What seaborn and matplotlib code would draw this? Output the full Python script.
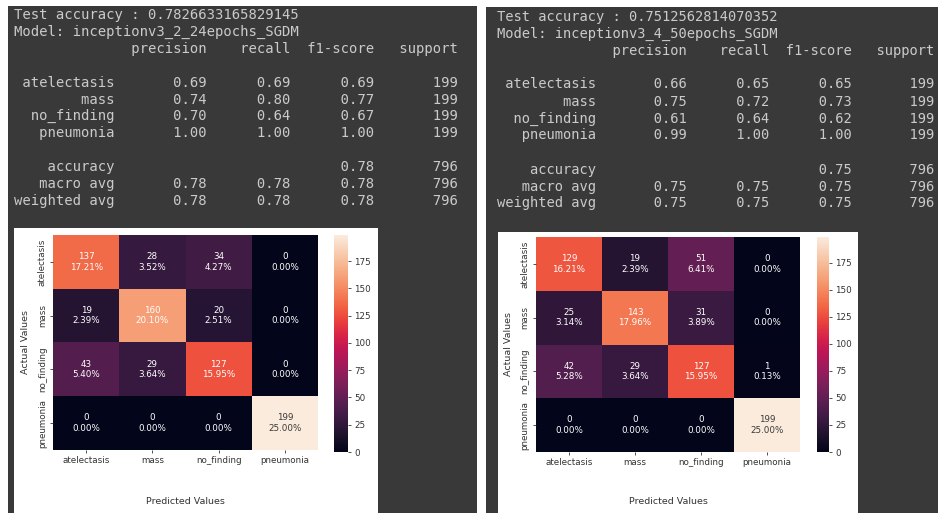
import matplotlib
matplotlib.use("Agg")
import matplotlib.pyplot as plt
from matplotlib.patches import Rectangle
import numpy as np
import seaborn as sns

# ---- data -------------------------------------------------------------
classes = ["atelectasis", "mass", "no_finding", "pneumonia"]
report_header = ["precision", "recall", "f1-score", "support"]

# model A: inceptionv3_2_24epochs_SGDM
model_a = "inceptionv3_2_24epochs_SGDM"
test_acc_a = "0.7826633165829145"
cm_a = [[137, 28, 34, 0],
        [19, 160, 20, 0],
        [43, 29, 127, 0],
        [0, 0, 0, 199]]
precision_a = [0.69, 0.74, 0.70, 1.00]
recall_a = [0.69, 0.80, 0.64, 1.00]
f1_a = [0.69, 0.77, 0.67, 1.00]
support_a = [199, 199, 199, 199]
accuracy_a = 0.78
macro_a = [0.78, 0.78, 0.78]
weighted_a = [0.78, 0.78, 0.78]

# model B: inceptionv3_4_50epochs_SGDM
model_b = "inceptionv3_4_50epochs_SGDM"
test_acc_b = "0.7512562814070352"
cm_b = [[129, 19, 51, 0],
        [25, 143, 31, 0],
        [42, 29, 127, 1],
        [0, 0, 0, 199]]
precision_b = [0.66, 0.75, 0.61, 0.99]
recall_b = [0.65, 0.72, 0.64, 1.00]
f1_b = [0.65, 0.73, 0.62, 1.00]
support_b = [199, 199, 199, 199]
accuracy_b = 0.75
macro_b = [0.75, 0.75, 0.75]
weighted_b = [0.75, 0.75, 0.75]

total_support = 796

# ---- helpers ----------------------------------------------------------
W, H = 938, 513
fig = plt.figure(figsize=(W / 100, H / 100), dpi=100)
fig.patch.set_facecolor("white")


def fx(x):
    return x / W


def fy(y):
    return 1 - y / H


def rect(x0, y0, x1, y1, color, z):
    fig.add_artist(Rectangle((fx(x0), fy(y1)), fx(x1) - fx(x0), fy(y0) - fy(y1),
                             transform=fig.transFigure, facecolor=color,
                             edgecolor="none", zorder=z))


def report_lines(test_acc, model, prec, rec, f1, sup, acc, macro, weighted):
    w = 12
    lines = [f"Test accuracy : {test_acc}", f"Model: {model}"]
    lines.append(" " * w + " " + "".join(f" {h:>9}" for h in report_header))
    lines.append("")
    for c, p, r, f, s in zip(classes, prec, rec, f1, sup):
        lines.append(f"{c:>{w}} " + f" {p:>9.2f} {r:>9.2f} {f:>9.2f}" + f" {s:>9}")
    lines.append("")
    lines.append(f"{'accuracy':>{w}} " + " " * 20 + f" {acc:>9.2f}" + f" {total_support:>9}")
    lines.append(f"{'macro avg':>{w}} " + "".join(f" {v:>9.2f}" for v in macro) + f" {total_support:>9}")
    lines.append(f"{'weighted avg':>{w}} " + "".join(f" {v:>9.2f}" for v in weighted) + f" {total_support:>9}")
    return lines


def draw_report(lines, x0, y0, step, size):
    for i, ln in enumerate(lines):
        if ln:
            fig.text(fx(x0), fy(y0 + step * i), ln, family="DejaVu Sans Mono",
                     fontsize=size, color="#cacaca", ha="left", va="center", zorder=3)


def draw_cm(cm, box, cbox, ylab_x, xlab_y):
    cm = np.array(cm)
    labels = np.array([[f"{v}\n{v / total_support:.2%}" for v in row] for row in cm])
    ax = fig.add_axes([fx(box[0]), fy(box[3]), fx(box[2]) - fx(box[0]), fy(box[1]) - fy(box[3])])
    cax = fig.add_axes([fx(cbox[0]), fy(cbox[3]), fx(cbox[2]) - fx(cbox[0]), fy(cbox[1]) - fy(cbox[3])])
    sns.heatmap(cm, annot=labels, fmt="", ax=ax, cbar_ax=cax, cmap="rocket",
                annot_kws={"fontsize": 6.3}, xticklabels=classes, yticklabels=classes)
    # light text on every cell except the brightest ones
    for t in ax.texts:
        count = int(t.get_text().split("\n")[0])
        t.set_color("#3a3a3a" if count > cm.max() * 0.9 else "white")
    ax.tick_params(labelsize=6.3, length=2.5, width=0.6, pad=2, colors="#333333")
    plt.setp(ax.get_yticklabels(), rotation=90, va="center")
    plt.setp(ax.get_xticklabels(), rotation=0)
    cax.tick_params(labelsize=6.3, length=2.5, width=0.6, pad=2, colors="#333333")
    cax.set_yticks(np.arange(0, 176, 25))
    ax.set_xlabel("")
    ax.set_ylabel("")
    fig.text(fx(ylab_x), (fy(box[1]) + fy(box[3])) / 2, "Actual Values", rotation=90,
             fontsize=6.8, color="#333333", ha="center", va="center")
    fig.text((fx(box[0]) + fx(box[2])) / 2, fy(xlab_y), "Predicted Values",
             fontsize=6.8, color="#333333", ha="center", va="center")


# ---- panels -----------------------------------------------------------
dark = "#393939"
rect(8, 6, 477, 513, dark, -3)
rect(486, 7, 938, 513, dark, -3)
rect(14, 228, 378, 513, "white", -2)
rect(498, 232, 858, 513, "white", -2)

draw_report(report_lines(test_acc_a, model_a, precision_a, recall_a, f1_a, support_a,
                         accuracy_a, macro_a, weighted_a), 14, 15, 16.9, 10)
draw_report(report_lines(test_acc_b, model_b, precision_b, recall_b, f1_b, support_b,
                         accuracy_b, macro_b, weighted_b), 497, 16.5, 17.0, 9.9)

draw_cm(cm_a, (53, 235, 318, 450), (334, 235, 348, 452), 25, 502)
draw_cm(cm_b, (536, 237, 800, 452), (817, 237, 829, 452), 508, 502)

fig.savefig("out.png", dpi=100, facecolor="white")
